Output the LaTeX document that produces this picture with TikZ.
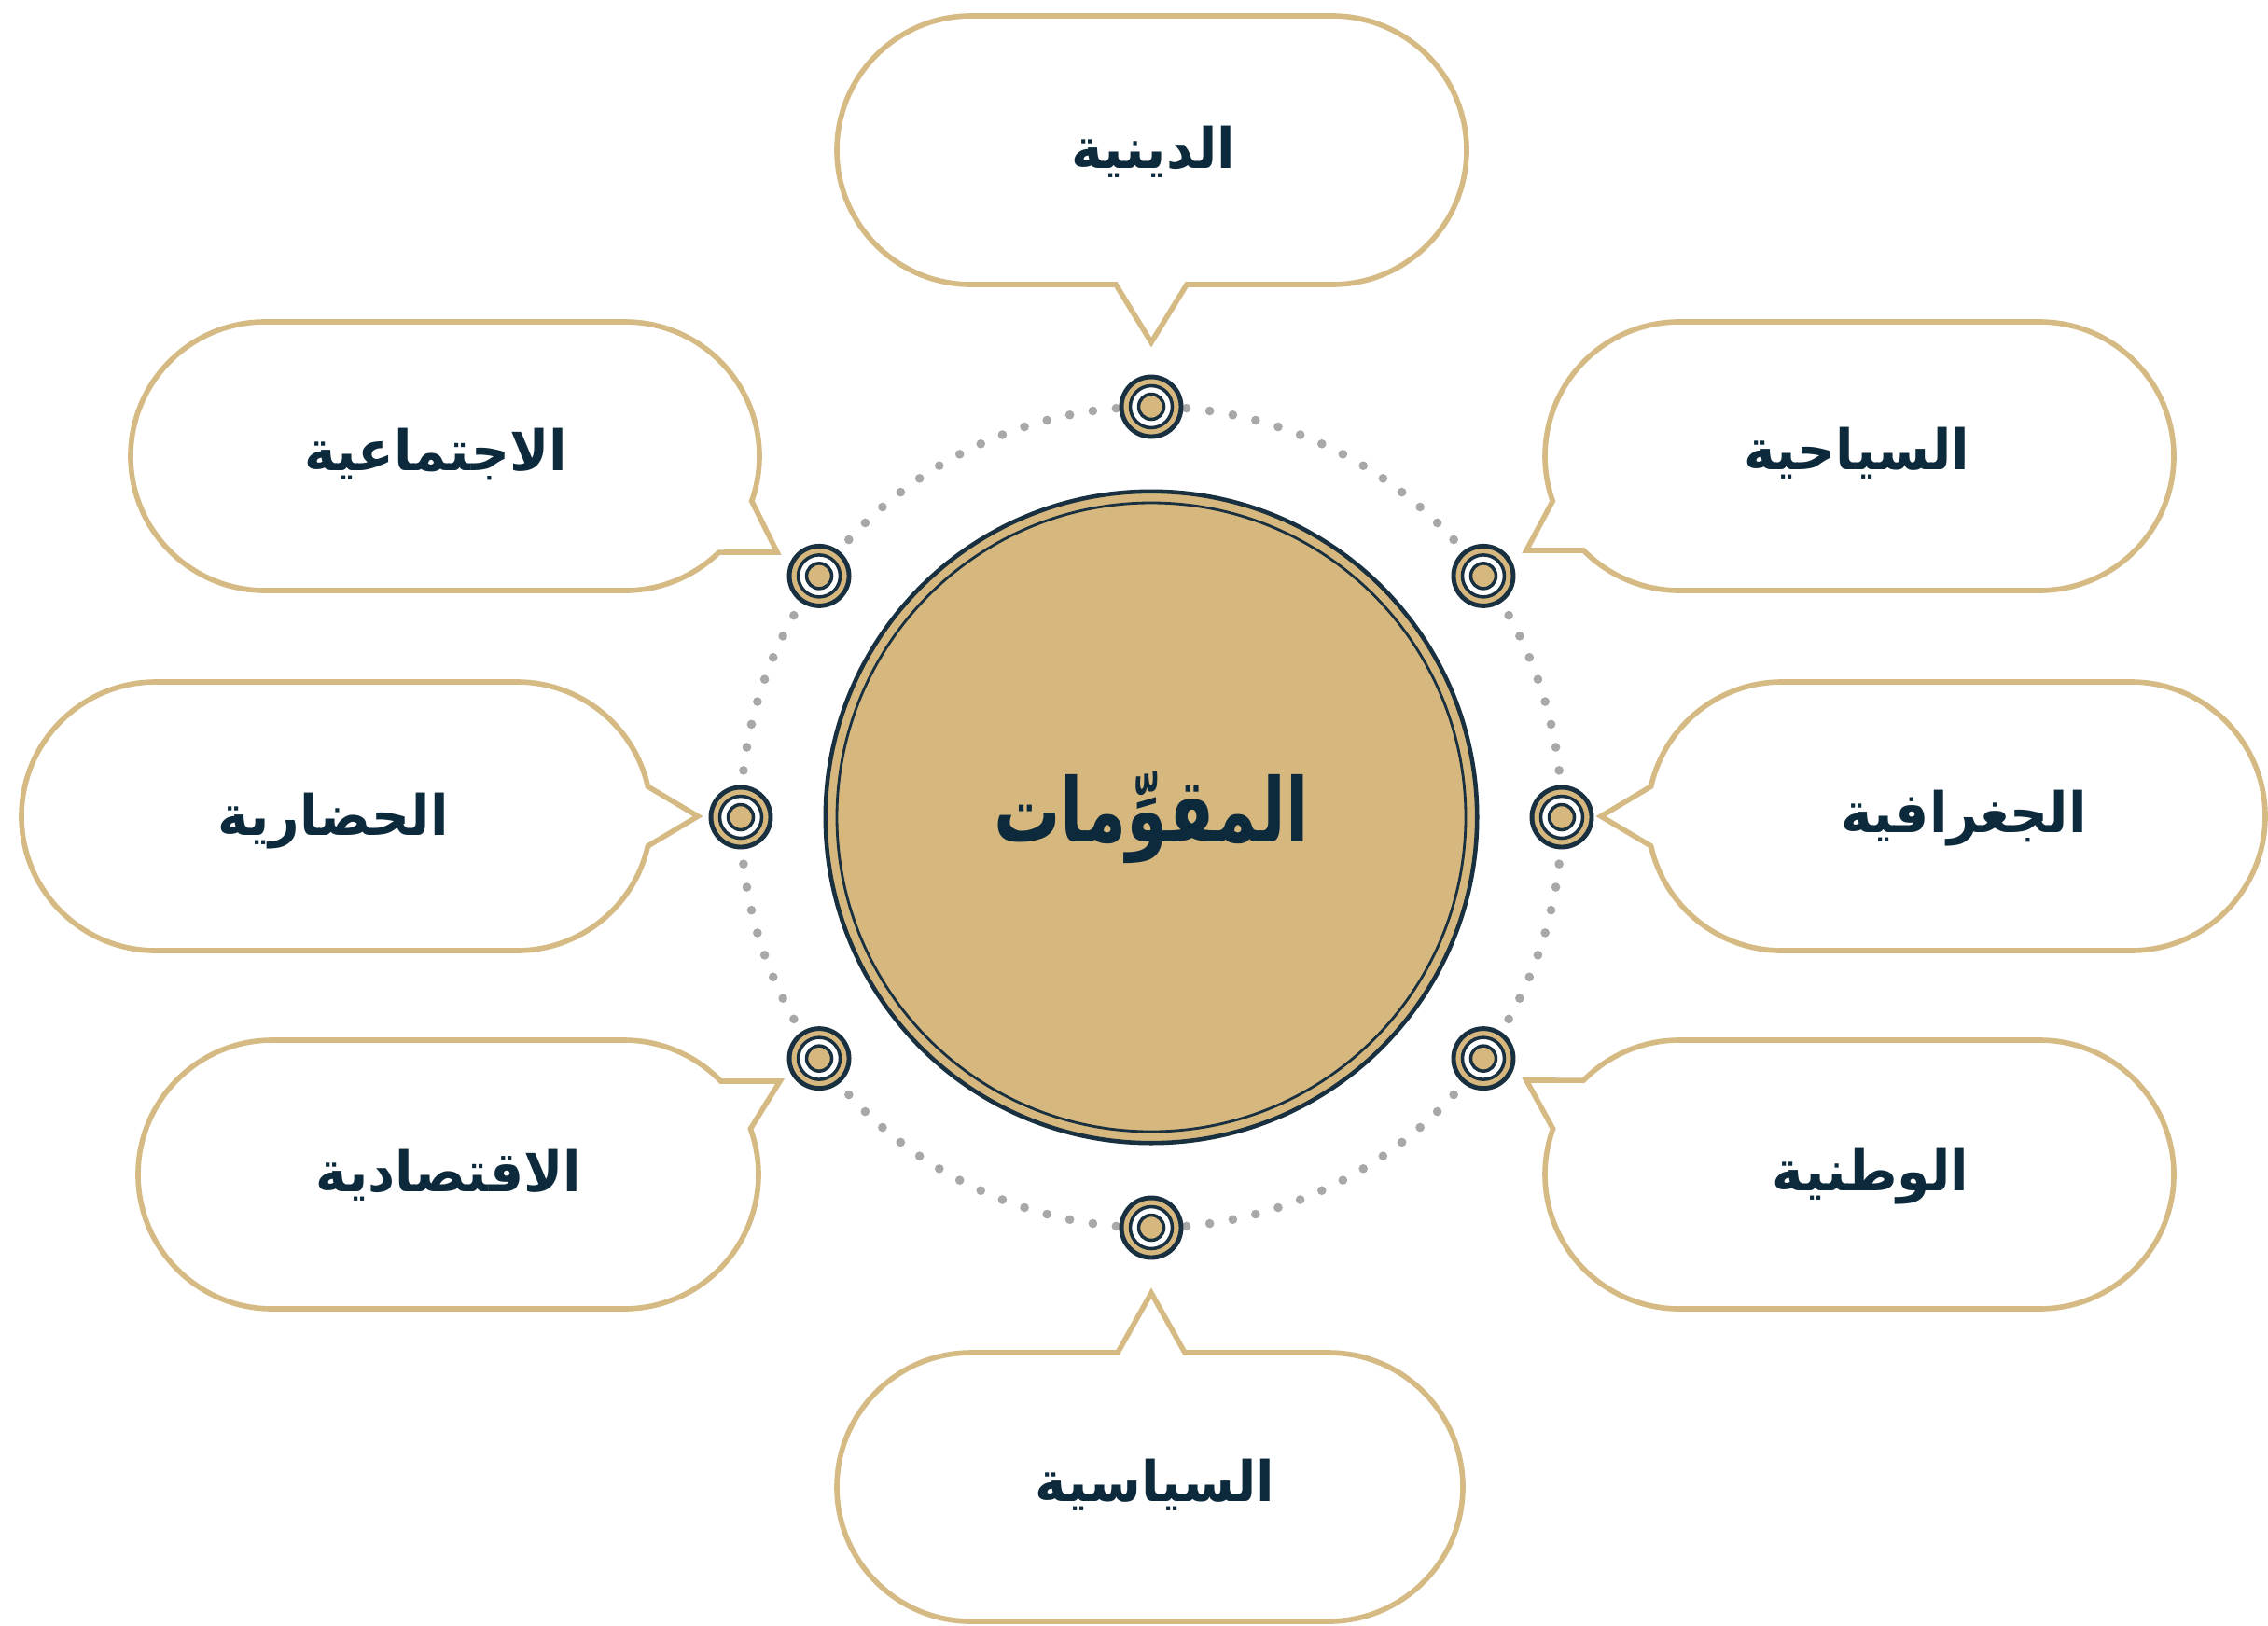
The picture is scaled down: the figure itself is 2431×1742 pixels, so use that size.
\documentclass[tikz,border=0pt]{standalone}
\usepackage{fontspec}
\usetikzlibrary{calc}
\TeXXeTstate=1
\newfontfamily\arabicfont[Script=Arabic, FakeStretch=0.95]{DejaVu Sans}
\newfontfamily\arabicnarrow[Script=Arabic, FakeStretch=0.75]{DejaVu Sans}
\definecolor{goldline}{RGB}{213,186,132}
\definecolor{goldfill}{RGB}{214,184,127}
\definecolor{navy}{RGB}{24,48,64}
\definecolor{txt}{RGB}{12,42,60}
\definecolor{dotc}{RGB}{168,168,168}
\begin{document}
\begin{tikzpicture}[x=0.01cm,y=-0.01cm,
  callout/.style={draw=goldline, line width=1.6pt, fill=white, line join=miter},
  lbl/.style={text=txt, font=\arabicfont\bfseries\fontsize{17}{21}\selectfont, inner sep=0pt},
  biglbl/.style={text=txt, font=\arabicnarrow\bfseries\fontsize{27}{32}\selectfont, inner sep=0pt}]
\useasboundingbox (0,0) rectangle (2431,1742);
\fill[white] (0,0) rectangle (2431,1742);

% dotted ring
\foreach \i in {0,...,109}
  \fill[dotc] ($(1234,876)+({\i*3.272727}:440)$) circle[radius=4.8];

% central circle
\node[circle, fill=goldfill, draw=navy, line width=1.3pt, minimum size=6.98cm, inner sep=0pt, biglbl] (core) at (1234,876) {\beginR المقوِّمات\endR};
\draw[navy, line width=0.8pt] (core.center) circle[radius=337];

% markers
\foreach \a/\n in {-90/m1,-36/m2,0/m3,36/m4,90/m5,144/m6,180/m7,216/m8}{
  \coordinate (\n) at ($(1234,876)+(\a:440)$);
  \filldraw[fill=goldfill, draw=navy, line width=1.4pt] (\n) circle[radius=32];
  \filldraw[fill=white, draw=navy, line width=1pt] (\n) circle[radius=22.5];
  \filldraw[fill=goldfill, draw=navy, line width=1pt] (\n) circle[radius=13.5];
}

% tail tips
\coordinate (tip1) at (1234,367);
\coordinate (tip2) at (1636,590);
\coordinate (tip3) at (1716,875);
\coordinate (tip4) at (1636,1158);
\coordinate (tip5) at (1234,1386);
\coordinate (tip6) at (836,1159);
\coordinate (tip7) at (748,875);
\coordinate (tip8) at (833,592);

% callouts
\draw[callout] (1041,17) -- (1428,17) arc[start angle=-90,end angle=90,radius=144]
  -- (1272,305) -- (tip1) -- (1196,305) -- (1041,305) arc[start angle=90,end angle=270,radius=144] -- cycle;
\draw[callout] (1800,345) -- (2186,345) arc[start angle=-90,end angle=90,radius=144]
  -- (1800,633) arc[start angle=90,end angle=135.5,radius=144] -- (tip2)
  -- ($(1800,489)+(160.5:144)$) arc[start angle=160.5,end angle=270,radius=144] -- cycle;
\draw[callout] (1910,731) -- (2284,731) arc[start angle=-90,end angle=90,radius=144]
  -- (1910,1019) arc[start angle=90,end angle=167.2,radius=144] -- (tip3)
  -- ($(1910,875)+(192.8:144)$) arc[start angle=192.8,end angle=270,radius=144] -- cycle;
\draw[callout] (1800,1115) -- (2186,1115) arc[start angle=-90,end angle=90,radius=144]
  -- (1800,1403) arc[start angle=90,end angle=199.9,radius=144] -- (tip4)
  -- ($(1800,1259)+(224.5:144)$) arc[start angle=224.5,end angle=270,radius=144] -- cycle;
\draw[callout] (1041,1450) -- (1198,1450) -- (tip5) -- (1270,1450) -- (1424,1450)
  arc[start angle=-90,end angle=90,radius=144] -- (1041,1738) arc[start angle=90,end angle=270,radius=144] -- cycle;
\draw[callout] (292,1115) -- (669,1115) arc[start angle=-90,end angle=-44,radius=144] -- (tip6)
  -- ($(669,1259)+(-19.9:144)$) arc[start angle=-19.9,end angle=90,radius=144]
  -- (292,1403) arc[start angle=90,end angle=270,radius=144] -- cycle;
\draw[callout] (167,731) -- (554,731) arc[start angle=-90,end angle=-12.8,radius=144] -- (tip7)
  -- ($(554,875)+(12.8:144)$) arc[start angle=12.8,end angle=90,radius=144]
  -- (167,1019) arc[start angle=90,end angle=270,radius=144] -- cycle;
\draw[callout] (284,345) -- (670,345) arc[start angle=-90,end angle=19.5,radius=144] -- (tip8)
  -- ($(670,489)+(45.7:144)$) arc[start angle=45.7,end angle=90,radius=144]
  -- (284,633) arc[start angle=90,end angle=270,radius=144] -- cycle;

% labels
\node[lbl] (t1) at (1236,163) {\beginR الدينية\endR};
\node[lbl] (t2) at (1990,486) {\beginR السياحية\endR};
\node[lbl] (t3) at (2105,877) {\beginR الجغرافية\endR};
\node[lbl] (t4) at (2005,1261) {\beginR الوطنية\endR};
\node[lbl] (t5) at (1238,1592) {\beginR السياسية\endR};
\node[lbl] (t6) at (481,1260) {\beginR الاقتصادية\endR};
\node[lbl] (t7) at (357,880) {\beginR الحضارية\endR};
\node[lbl] (t8) at (467,487) {\beginR الاجتماعية\endR};
\end{tikzpicture}
\end{document}
